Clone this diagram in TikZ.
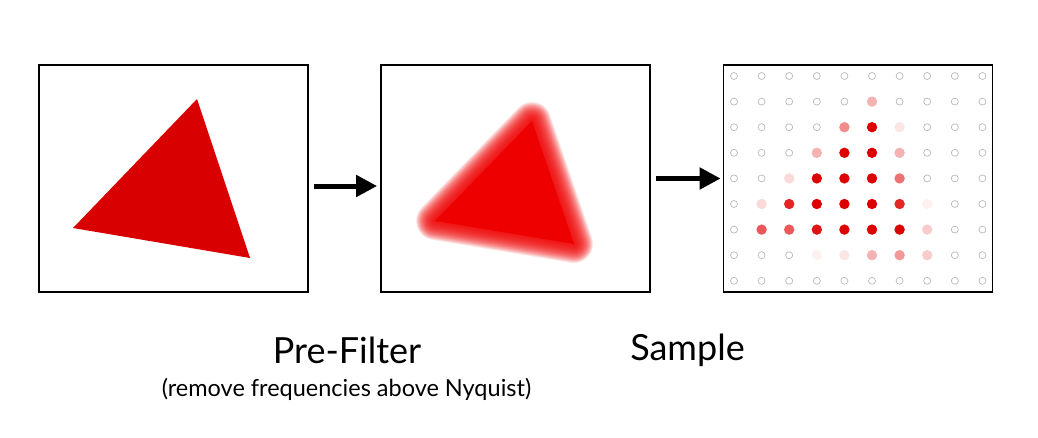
\documentclass[tikz,border=0pt]{standalone}
\usepackage{fontspec}
\setmainfont{Lato}
\usetikzlibrary{arrows.meta,positioning}
\definecolor{trired}{RGB}{216,0,0}
\definecolor{blurred}{RGB}{238,0,0}
\definecolor{samplered}{RGB}{221,0,0}

\begin{document}
\begin{tikzpicture}[x=1pt, y=-1pt, >={Triangle[length=21pt, width=21pt]},
        panel/.style={draw, line width=1.8pt, minimum width=269pt, minimum height=227pt, inner sep=0pt},
        flow/.style={->, line width=5pt},
        hole/.style={draw=gray!55, line width=0.7pt}]
        \useasboundingbox (0,0) rectangle (1038,437);

        % Three panels
        \node[panel] (input) at (173.5,178.5) {};
        \node[panel] (filtered) at (515.5,178.5) {};
        \node[panel] (sampled) at (858,178.5) {};

        % Original triangle
        \fill[trired] (197,99) -- (73,228) -- (250,258) -- cycle;

        % Blurred triangle
        \foreach \w in {38,36.5,...,1}
            \draw[blurred, line width=\w pt, line join=round, opacity=0.09] (532,121) -- (435,221) -- (574,244) -- cycle;
        \fill[blurred] (532,121) -- (435,221) -- (574,244) -- cycle;

        % Sample grid
        \foreach \i in {0,...,9}
            \foreach \j in {0,...,8}
                \draw[hole] (734+27.6*\i, 76+25.6*\j) circle (3.5pt);
        \foreach \c/\r/\p in {6/2/30, 5/3/45, 6/3/100, 7/3/10,
                4/4/30, 5/4/100, 6/4/100, 7/4/30,
                3/5/15, 4/5/100, 5/5/100, 6/5/100, 7/5/55,
                2/6/15, 3/6/85, 4/6/100, 5/6/100, 6/6/100, 7/6/85, 8/6/5,
                2/7/65, 3/7/65, 4/7/92, 5/7/100, 6/7/100, 7/7/100, 8/7/20,
                4/8/5, 5/8/10, 6/8/30, 7/8/40, 8/8/20}
            \fill[samplered!\p!white] (734+27.6*\c-27.6, 76+25.6*\r-25.6) circle (5.2pt);

        % Arrows
        \draw[flow] ([xshift=5pt, yshift=-7.5pt]input.east) -- ([xshift=-3pt, yshift=-7.5pt]filtered.west);
        \draw[flow] ([xshift=5pt]filtered.east) -- ([xshift=-2pt]sampled.west);

        % Captions
        \node[font=\fontsize{36}{40}\selectfont] (prelabel) at (347,350) {Pre-Filter};
        \node[font=\fontsize{23.5}{26}\selectfont] (prenote) at (346.5,389) {(remove frequencies above Nyquist)};
        \node[font=\fontsize{36}{40}\selectfont] (samplelabel) at (687.5,350) {Sample};
    \end{tikzpicture}
\end{document}
